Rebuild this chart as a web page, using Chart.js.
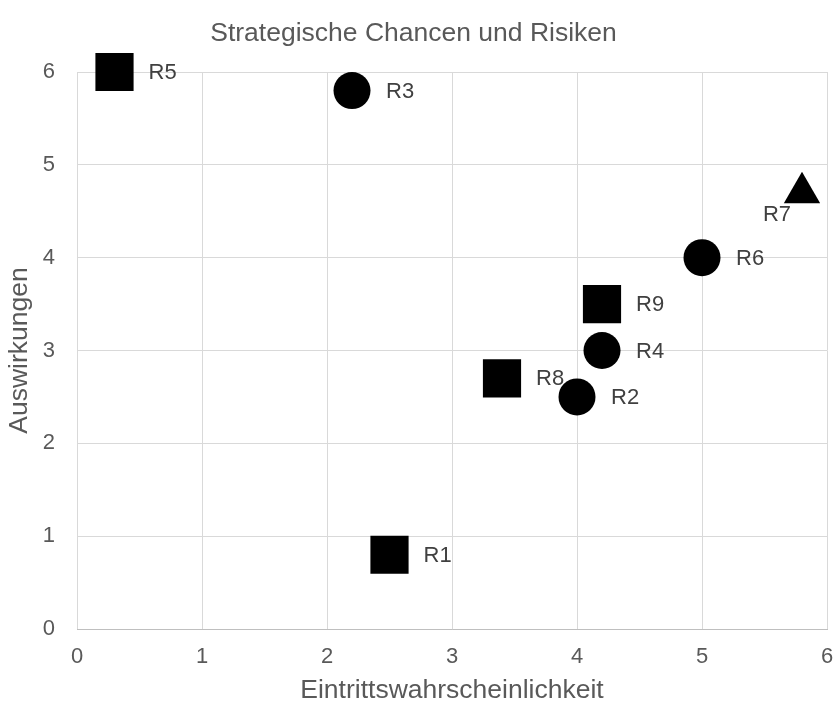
<!DOCTYPE html>
<html>
<head>
<meta charset="utf-8">
<script src="https://cdn.jsdelivr.net/npm/chart.js@4.4.0/dist/chart.umd.min.js"></script>
<style>
  html, body { margin: 0; padding: 0; background: #fff; }
  #wrap { width: 835px; height: 704px; }
</style>
</head>
<body>
<div id="wrap"><canvas id="riskChart" width="835" height="704"></canvas></div>
<script>
// risk names and their position (probability, impact)
const riskNames = ['R1', 'R2', 'R3', 'R4', 'R5', 'R6', 'R7', 'R8', 'R9'];
const probability = [2.5, 4.0, 2.2, 4.2, 0.3, 5.0, 5.8, 3.4, 4.2];
const impact = [0.8, 2.5, 5.8, 3.0, 6.0, 4.0, 4.7, 2.7, 3.5];
const shapes = ['rect', 'circle', 'circle', 'circle', 'rect', 'circle', 'triangle', 'rect', 'rect'];
// where the data label sits relative to the marker
const labelSide = ['right', 'right', 'right', 'right', 'right', 'right', 'belowLeft', 'right', 'right'];
const xTicks = [0, 1, 2, 3, 4, 5, 6];
const yTicks = [0, 1, 2, 3, 4, 5, 6];

const FONT = '"Liberation Sans", Arial, sans-serif';
const grey = '#595959';

const points = probability.map((x, i) => ({ x: x, y: impact[i] }));
const radii = shapes.map(s => s === 'rect' ? 27 : (s === 'triangle' ? 21 : 18.5));

// draw the R1..R9 labels next to each marker
const pointLabels = {
  id: 'pointLabels',
  afterDatasetsDraw(chart) {
    const ctx = chart.ctx;
    const meta = chart.getDatasetMeta(0);
    ctx.save();
    ctx.font = '22px ' + FONT;
    ctx.fillStyle = '#404040';
    ctx.textBaseline = 'middle';
    meta.data.forEach((el, i) => {
      if (labelSide[i] === 'belowLeft') {
        ctx.textAlign = 'right';
        ctx.fillText(riskNames[i], el.x - 11, el.y + 22);
      } else {
        ctx.textAlign = 'left';
        ctx.fillText(riskNames[i], el.x + 34, el.y + 1);
      }
    });
    ctx.restore();
  }
};

new Chart(document.getElementById('riskChart').getContext('2d'), {
  type: 'scatter',
  data: {
    datasets: [{
      data: points,
      pointStyle: shapes,
      pointRadius: radii,
      pointHoverRadius: radii,
      backgroundColor: '#000',
      borderColor: '#000',
      borderWidth: 0,
      clip: false
    }]
  },
  options: {
    responsive: false,
    animation: false,
    layout: { autoPadding: false, padding: { left: 0, right: 8, top: 0, bottom: 0 } },
    plugins: {
      legend: { display: false },
      tooltip: { enabled: false },
      title: {
        display: true,
        text: 'Strategische Chancen und Risiken',
        color: grey,
        font: { family: FONT, size: 26.5, weight: 'normal', lineHeight: 1 },
        padding: { top: 20, bottom: 25.5 }
      }
    },
    scales: {
      x: {
        type: 'linear',
        min: 0,
        max: 6,
        afterBuildTicks(scale) { scale.ticks = xTicks.map(v => ({ value: v })); },
        afterFit(scale) {
          scale.height = 75;
          scale.paddingLeft = 0;
          scale.paddingRight = 0;
        },
        grid: { color: '#d9d9d9', lineWidth: 1, drawTicks: false },
        border: { color: '#bfbfbf' },
        ticks: { color: grey, font: { family: FONT, size: 22 }, padding: 15 },
        title: {
          display: true,
          text: 'Eintrittswahrscheinlichkeit',
          color: grey,
          font: { family: FONT, size: 26.5, lineHeight: 1 },
          padding: { top: 0, bottom: 0 }
        }
      },
      y: {
        type: 'linear',
        min: 0,
        max: 6,
        afterBuildTicks(scale) { scale.ticks = yTicks.map(v => ({ value: v })); },
        afterFit(scale) { scale.width = 77; },
        grid: { color: '#d9d9d9', lineWidth: 1, drawTicks: false },
        border: { display: false },
        ticks: { color: grey, font: { family: FONT, size: 22 }, padding: 22 },
        title: {
          display: true,
          text: 'Auswirkungen',
          color: grey,
          font: { family: FONT, size: 26.5, lineHeight: 1 },
          padding: { top: 6, bottom: 0 }
        }
      }
    }
  },
  plugins: [pointLabels]
});
</script>
</body>
</html>
